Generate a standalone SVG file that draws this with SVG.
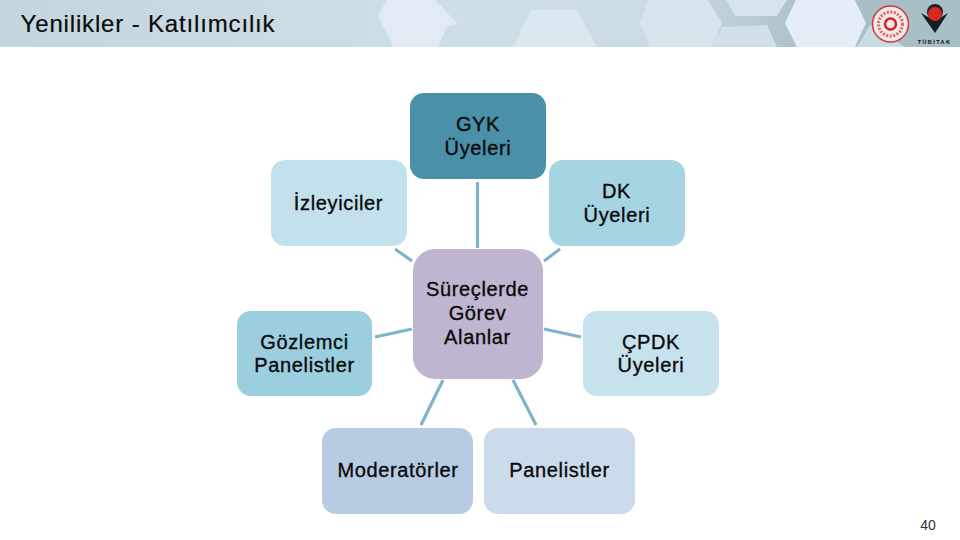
<svg xmlns="http://www.w3.org/2000/svg" width="960" height="540" viewBox="0 0 960 540">
<style>
text{font-family:"Liberation Sans",Arial,sans-serif;fill:#0a0a0a;text-anchor:middle}
.n{font-size:20px;stroke:#0a0a0a;stroke-width:.35px;letter-spacing:.65px}
.c line{stroke:#7fb4c8;stroke-width:3.2px}
</style>
<defs>
<linearGradient id="h" x1="0" x2="1" y1="0" y2="0"><stop offset="0" stop-color="#c3d5de"/><stop offset=".5" stop-color="#cfdfe7"/><stop offset="1" stop-color="#c2d4dc"/></linearGradient>
<linearGradient id="b" x1="0" x2="1" y1="0" y2="0"><stop offset="0" stop-color="#c2d3db"/><stop offset="1" stop-color="#aec2ca"/></linearGradient>
</defs>
<rect width="960" height="540" fill="#fff"/>
<g id="header">
<rect width="960" height="47" fill="url(#h)"/>
<polygon points="378,15 387,0 435,0 458,24 447,26 438,47 393,47" fill="#e2ebf3"/>
<polygon points="514,47 530,10 577,10 597,47" fill="#dce8ef"/>
<polygon points="706,0 796,0 785,23 797,47 712,47 722,23" fill="url(#b)"/>
<polygon points="640,23 648,0 708,0 722,23 712,47 650,47" fill="#d7e4ec"/>
<polygon points="726,0 787,0 777,16 735,16" fill="#d6e3ea"/>
<polygon points="712,47 722,27 767,25 777,47" fill="#d2e1e9"/>
<polygon points="785,23 796,0 855,0 866,23 855,47 797,47" fill="#e5eef6"/>
<polygon points="855,0 960,0 960,47 855,47 866,23" fill="#a9bfc8"/>
<polygon points="857,47 870,25 905,47" fill="#c9dbe4"/>
</g>
<text x="148" y="32" style="font-size:24px;stroke:#0a0a0a;stroke-width:.2px;letter-spacing:.84px">Yenilikler - Katılımcılık</text>
<g id="logo-a" fill="none">
<circle cx="890.500" cy="24" r="18" fill="#f1e7e7" stroke="#cf3b3f" stroke-width="1.500"/>
<circle cx="890.500" cy="24" r="12" stroke="#d9686a" stroke-width="3" stroke-dasharray="2 1.500"/>
<circle cx="890.500" cy="24" r="5.500" stroke="#c9252b" stroke-width="2.500"/>
</g>
<g id="logo-b">
<polygon points="921,13 935,21 948,13 935,33" fill="#141d22"/>
<circle cx="935" cy="12" r="8" fill="#1a2428"/>
<circle cx="935" cy="14" r="7" fill="#d9281e"/>
<text x="934.500" y="44" style="font-size:5.500px;letter-spacing:1.400px;font-weight:bold">TÜBİTAK</text>
</g>
<g id="connectors" class="c">
<line x1="477.5" y1="182" x2="477.5" y2="248"/>
<line x1="395" y1="249" x2="412" y2="261"/>
<line x1="560" y1="249" x2="544" y2="261"/>
<line x1="375" y1="337" x2="412" y2="329"/>
<line x1="544" y1="329" x2="581" y2="337"/>
<line x1="443" y1="380" x2="421" y2="425"/>
<line x1="513" y1="380" x2="536" y2="425"/>
</g>
<g id="gyk"><rect x="410" y="93" width="136" height="86" rx="14" fill="#4a90a8"/><text class="n" x="478" y="131">GYK</text><text class="n" x="478" y="155">Üyeleri</text></g>
<g id="izleyiciler"><rect x="271" y="160" width="136" height="86" rx="14" fill="#c2e1ec"/><text class="n" x="338.500" y="210">İzleyiciler</text></g>
<g id="dk"><rect x="549" y="160" width="136" height="86" rx="14" fill="#a6d4e3"/><text class="n" x="616.500" y="198">DK</text><text class="n" x="617" y="222">Üyeleri</text></g>
<g id="gozlemci"><rect x="237" y="311" width="135" height="85" rx="14" fill="#9bcfe0"/><text class="n" x="304.500" y="349">Gözlemci</text><text class="n" x="304.500" y="372">Panelistler</text></g>
<g id="cpdk"><rect x="583" y="311" width="136" height="85" rx="14" fill="#c6e3ed"/><text class="n" x="651" y="349">ÇPDK</text><text class="n" x="651" y="372">Üyeleri</text></g>
<g id="surec"><rect x="413" y="249" width="130" height="130" rx="22" fill="#c0b5d1"/><text class="n" x="477.500" y="296">Süreçlerde</text><text class="n" x="477.500" y="320">Görev</text><text class="n" x="477.500" y="344">Alanlar</text></g>
<g id="moderatorler"><rect x="322" y="428" width="151" height="86" rx="14" fill="#b7cbe3"/><text class="n" x="398" y="477">Moderatörler</text></g>
<g id="panelistler"><rect x="484" y="428" width="151" height="86" rx="14" fill="#cbdbeb"/><text class="n" x="559.500" y="477">Panelistler</text></g>
<text x="928" y="530" style="font-size:14px;fill:#333">40</text>
</svg>
